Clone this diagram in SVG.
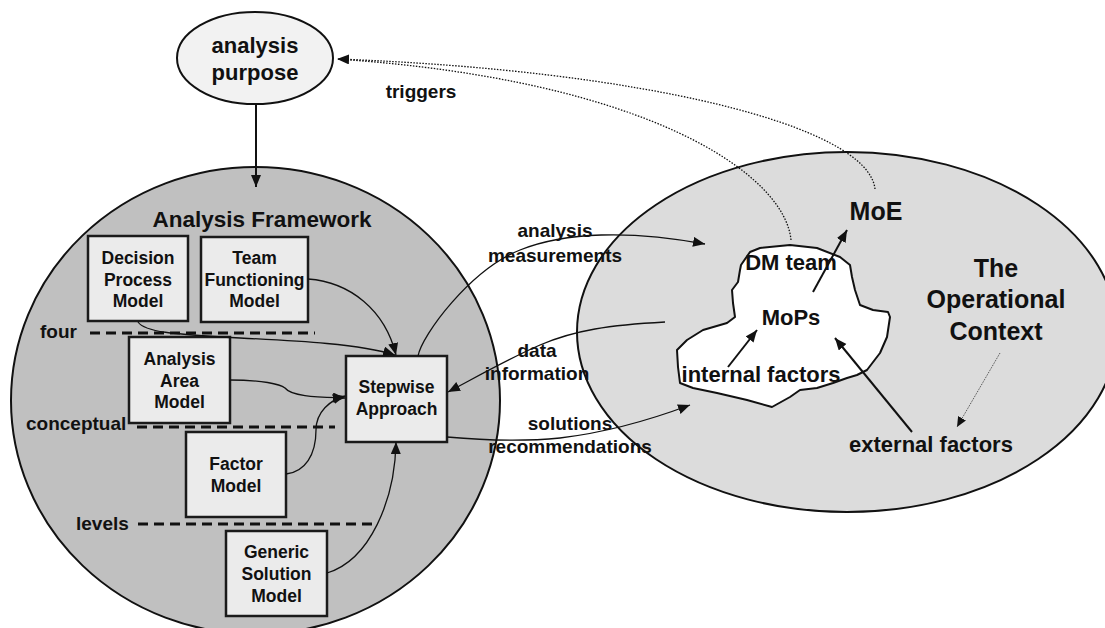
<svg xmlns="http://www.w3.org/2000/svg" width="1105" height="628" viewBox="0 0 1105 628">
  <style>
    text { font-family: "Liberation Sans", Arial, sans-serif; font-weight: bold; fill: #111; }
    .c { text-anchor: middle; }
    .box { fill: #ebebeb; stroke: #1a1a1a; stroke-width: 2.5; }
    .t17 { font-size: 17.5px; }
    .t19 { font-size: 19px; }
    .t22 { font-size: 22px; }
    .t25 { font-size: 25px; }
    .conn { fill: none; stroke: #111; stroke-width: 1.3; }
    .conn2 { fill: none; stroke: #111; stroke-width: 2; }
    .dot { fill: none; stroke: #111; stroke-width: 1.3; stroke-dasharray: 1.5 1.5; }
    .dotfine { fill: none; stroke: #444; stroke-width: 1; stroke-dasharray: 1 1; }
    .level { stroke: #111; stroke-width: 3; stroke-dasharray: 10 6; }
  </style>
  <defs>
    <marker id="ah" markerUnits="userSpaceOnUse" markerWidth="13" markerHeight="11" refX="12" refY="5" orient="auto">
      <path d="M0,0 L12,5 L0,10 z" fill="#111"/>
    </marker>
    <marker id="ahs" markerUnits="userSpaceOnUse" markerWidth="11" markerHeight="10" refX="10" refY="4.5" orient="auto">
      <path d="M0,0 L10,4.5 L0,9 z" fill="#111"/>
    </marker>
  </defs>

  <!-- operational context ellipse -->
  <g id="operational-context">
    <ellipse cx="847" cy="332" rx="270" ry="180" fill="#dcdcdc" stroke="#111" stroke-width="2"/>
    <text class="t25 c" x="996" y="277">The</text>
    <text class="t25 c" x="996" y="308">Operational</text>
    <text class="t25 c" x="996" y="340">Context</text>
  </g>

  <!-- DM team region -->
  <g id="dm-team">
    <path d="M741,265 L750,252 L760,248 L790,245 L817,248 L840,257 L850,265 L852,277 L855,290 L860,305 L873,310 L888,312 L890,317 L887,337 L880,353 L867,370 L857,375 L847,378 L833,383 L817,388 L800,390 L790,397 L772,407 L747,400 L717,393 L693,388 L680,383 L678,367 L677,350 L687,340 L703,330 L727,323 L735,317 L733,303 L732,290 L738,282 L740,270 Z" fill="#ffffff" stroke="#111" stroke-width="2" stroke-linejoin="round"/>
    <text class="t22 c" x="791" y="270">DM team</text>
  </g>
  <g id="moe"><text class="t25 c" x="876" y="220">MoE</text></g>
  <g id="mops"><text class="t22 c" x="791" y="325">MoPs</text></g>
  <g id="internal-factors"><text class="t22 c" x="761" y="382">internal factors</text></g>
  <g id="external-factors"><text class="t22 c" x="931" y="452">external factors</text></g>

  <!-- analysis framework -->
  <g id="analysis-framework">
    <ellipse cx="255.5" cy="400.5" rx="244.5" ry="233.5" fill="#c0c0c0" stroke="#111" stroke-width="2"/>
    <text x="262" y="227" class="c" style="font-size:22.5px">Analysis Framework</text>
  </g>

  <!-- abstraction levels -->
  <g id="levels">
    <line class="level" x1="90" y1="333" x2="315" y2="333"/>
    <line class="level" x1="137" y1="427" x2="335" y2="427"/>
    <line class="level" x1="138" y1="524" x2="372" y2="524"/>
    <text class="t19" x="40" y="338">four</text>
    <text class="t19" x="26" y="430">conceptual</text>
    <text class="t19" x="76" y="530">levels</text>
  </g>

  <g id="analysis-purpose">
    <ellipse cx="255" cy="58" rx="78" ry="46" fill="#f2f2f2" stroke="#111" stroke-width="2"/>
    <text class="t22 c" x="255" y="53">analysis</text>
    <text class="t22 c" x="255" y="80">purpose</text>
  </g>

  <g id="decision-process-model">
    <rect class="box" x="88" y="236" width="100" height="85"/>
    <text class="t17 c" x="138" y="264">Decision</text>
    <text class="t17 c" x="138" y="286">Process</text>
    <text class="t17 c" x="138" y="307">Model</text>
  </g>
  <g id="team-functioning-model">
    <rect class="box" x="201" y="237" width="107" height="85"/>
    <text class="t17 c" x="254.5" y="264">Team</text>
    <text class="t17 c" x="254.5" y="286">Functioning</text>
    <text class="t17 c" x="254.5" y="307">Model</text>
  </g>
  <g id="analysis-area-model">
    <rect class="box" x="129" y="337" width="101" height="86"/>
    <text class="t17 c" x="179.5" y="365">Analysis</text>
    <text class="t17 c" x="179.5" y="387">Area</text>
    <text class="t17 c" x="179.5" y="408">Model</text>
  </g>
  <g id="stepwise-approach">
    <rect class="box" x="346" y="356" width="101" height="86"/>
    <text class="t17 c" x="396.5" y="393">Stepwise</text>
    <text class="t17 c" x="396.5" y="415">Approach</text>
  </g>
  <g id="factor-model">
    <rect class="box" x="186" y="432" width="100" height="85"/>
    <text class="t17 c" x="236" y="470">Factor</text>
    <text class="t17 c" x="236" y="492">Model</text>
  </g>
  <g id="generic-solution-model">
    <rect class="box" x="226" y="531" width="101" height="85"/>
    <text class="t17 c" x="276.5" y="558">Generic</text>
    <text class="t17 c" x="276.5" y="580">Solution</text>
    <text class="t17 c" x="276.5" y="602">Model</text>
  </g>

  <!-- connectors -->
  <g id="connectors">
    <path class="conn2" d="M256,104 L256,187" marker-end="url(#ah)"/>
    <path class="dot" d="M875,189 C868,125 640,70 337,59" marker-end="url(#ah)"/>
    <path class="dot" d="M791,240 C785,175 650,80 337,59"/>
    <path class="conn" d="M138,322 C145,332 170,334 240,338 C300,341 360,344 395,355" marker-end="url(#ah)"/>
    <path class="conn" d="M308,279 C350,282 385,310 396,355" marker-end="url(#ah)"/>
    <path class="conn" d="M230,380 C262,380 280,384 285,388 C292,397 320,397 345,398" marker-end="url(#ah)"/>
    <path class="conn" d="M286,474 C305,472 316,455 316,430 C316,412 330,400 345,396" marker-end="url(#ah)"/>
    <path class="conn" d="M327,573 C370,560 395,500 396,442" marker-end="url(#ah)"/>
    <path class="conn" d="M418,356 C422,335 470,270 520,250 C565,232 630,230 705,244" marker-end="url(#ah)"/>
    <path class="conn" d="M665,322 C610,325 575,330 540,345 C510,358 480,375 448,392" marker-end="url(#ah)"/>
    <path class="conn" d="M447,437 C480,440 520,442 560,438 C610,432 650,420 690,405" marker-end="url(#ah)"/>
    <path class="conn2" d="M728,367 L757,330" marker-end="url(#ah)"/>
    <path class="conn2" d="M813,292 L847,230" marker-end="url(#ah)"/>
    <path class="conn2" d="M912,432 L835,338" marker-end="url(#ah)"/>
    <path class="dotfine" d="M1000,353 L957,427" marker-end="url(#ahs)"/>
    <text class="t19 c" x="421" y="98">triggers</text>
    <text class="t19 c" x="555" y="237">analysis</text>
    <text class="t19 c" x="555" y="262">measurements</text>
    <text class="t19 c" x="537" y="357">data</text>
    <text class="t19 c" x="537" y="380">information</text>
    <text class="t19 c" x="570" y="430">solutions</text>
    <text class="t19 c" x="570" y="453">recommendations</text>
  </g>
</svg>
